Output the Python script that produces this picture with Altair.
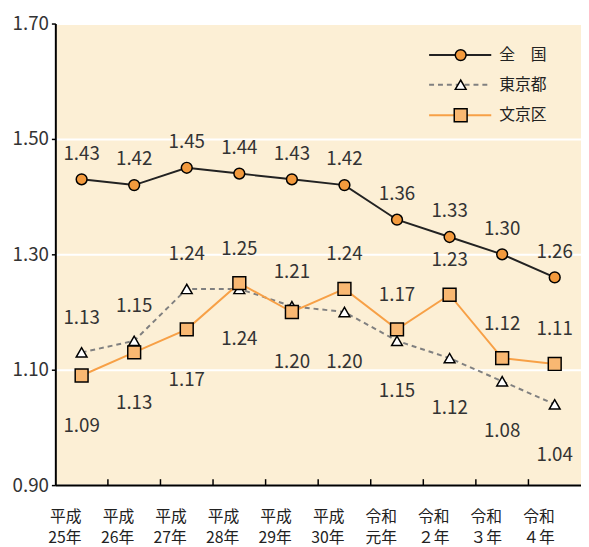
import altair as alt
import pandas as pd

years = ["平成25年", "平成26年", "平成27年", "平成28年", "平成29年", "平成30年",
         "令和元年", "令和２年", "令和３年", "令和４年"]
zenkoku = [1.43, 1.42, 1.45, 1.44, 1.43, 1.42, 1.36, 1.33, 1.30, 1.26]
tokyo = [1.13, 1.15, 1.24, 1.24, 1.21, 1.20, 1.15, 1.12, 1.08, 1.04]
bunkyo = [1.09, 1.13, 1.17, 1.25, 1.20, 1.24, 1.17, 1.23, 1.12, 1.11]
series_names = ["全国", "東京都", "文京区"]
legend_labels = ["全　国", "東京都", "文京区"]
y_ticks = [0.90, 1.10, 1.30, 1.50, 1.70]

FONT = "Noto Sans CJK JP"
BG = "#FCEFD5"

rows = []
for name, vals in zip(series_names, [zenkoku, tokyo, bunkyo]):
    for i, (yr, v) in enumerate(zip(years, vals)):
        if name == "全国":
            place = "top"
        elif name == "東京都":
            place = "up" if v > bunkyo[i] else "down"
        else:
            place = "up" if v > tokyo[i] else "down"
        rows.append({"year": yr, "series": name, "value": v, "place": place,
                     "label": f"{v:.2f}"})
df = pd.DataFrame(rows)

W, H = 533, 468

x_enc = alt.X("year:N", sort=years,
              scale=alt.Scale(type="band", paddingInner=0, paddingOuter=0),
              axis=alt.Axis(title=None, labelAngle=0, ticks=False, grid=False,
                            domainColor="black", domainWidth=2,
                            labelFont=FONT, labelFontSize=16, labelColor="#222",
                            labelPadding=32, labelLineHeight=21, labelBaseline="middle",
                            labelExpr="[substring(datum.label,0,2), substring(datum.label,2)]"))
y_enc = alt.Y("value:Q", scale=alt.Scale(domain=[0.9, 1.7], nice=False, zero=False),
              axis=alt.Axis(title=None, values=y_ticks, format=".2f", grid=True,
                            gridColor="white", gridWidth=2,
                            domainColor="black", domainWidth=2,
                            tickColor="black", tickSize=4, tickWidth=1.5,
                            labelFont=FONT, labelFontSize=19, labelColor="#333",
                            labelPadding=3))

base = alt.Chart(df).encode(x=x_enc, y=y_enc)

styles = {
    "全国": dict(line=dict(color="#222222", strokeWidth=2),
               pt=dict(shape="circle", size=120, fill="#F39A3D", stroke="black", strokeWidth=1.5)),
    "東京都": dict(line=dict(color="#808080", strokeWidth=2, strokeDash=[5, 4]),
                pt=dict(shape="triangle-up", size=120, fill="white", stroke="black", strokeWidth=1.5)),
    "文京区": dict(line=dict(color="#F7A046", strokeWidth=2),
                pt=dict(shape="square", size=170, fill="#F9B872", stroke="black", strokeWidth=1.5)),
}

layers = []
# x-axis inner ticks at band boundaries
tick_df = pd.DataFrame({"year": years[1:]})
layers.append(alt.Chart(tick_df).mark_rule(color="black", strokeWidth=1.5).encode(
    x=alt.X("year:N", sort=years, bandPosition=0), y=alt.value(H - 6), y2=alt.value(H)))

for name in ["東京都", "文京区", "全国"]:
    s = styles[name]
    layers.append(base.transform_filter(alt.datum.series == name).mark_line(**s["line"]))
for name in ["東京都", "文京区", "全国"]:
    s = styles[name]
    layers.append(base.transform_filter(alt.datum.series == name).mark_point(filled=False, opacity=1, **s["pt"]))

for place, dy in [("top", -26), ("up", -35), ("down", 51)]:
    layers.append(base.transform_filter(alt.datum.place == place).mark_text(
        font=FONT, fontSize=19, color="#333", dy=dy, baseline="middle").encode(text="label:N"))

# legend
leg_y = [32, 62, 93]
for name, lab, ly in zip(series_names, legend_labels, leg_y):
    s = styles[name]
    ldf = pd.DataFrame({"label": [lab]})
    layers.append(alt.Chart(ldf).mark_rule(**s["line"]).encode(
        x=alt.value(379), x2=alt.value(442), y=alt.value(ly)))
    layers.append(alt.Chart(ldf).mark_point(filled=False, opacity=1, **s["pt"]).encode(
        x=alt.value(411), y=alt.value(ly)))
    layers.append(alt.Chart(ldf).mark_text(font=FONT, fontSize=16, color="#222", align="left",
                                           baseline="middle").encode(
        x=alt.value(450), y=alt.value(ly), text="label:N"))

chart = alt.layer(*layers).properties(
    width=W, height=H,
    autosize=alt.AutoSizeParams(type="none"),
    padding={"left": 48, "top": 12, "right": 0, "bottom": 59},
).configure_view(fill=BG, stroke=None)

chart.save("out.html", embed_options={"renderer": "svg", "actions": False})
